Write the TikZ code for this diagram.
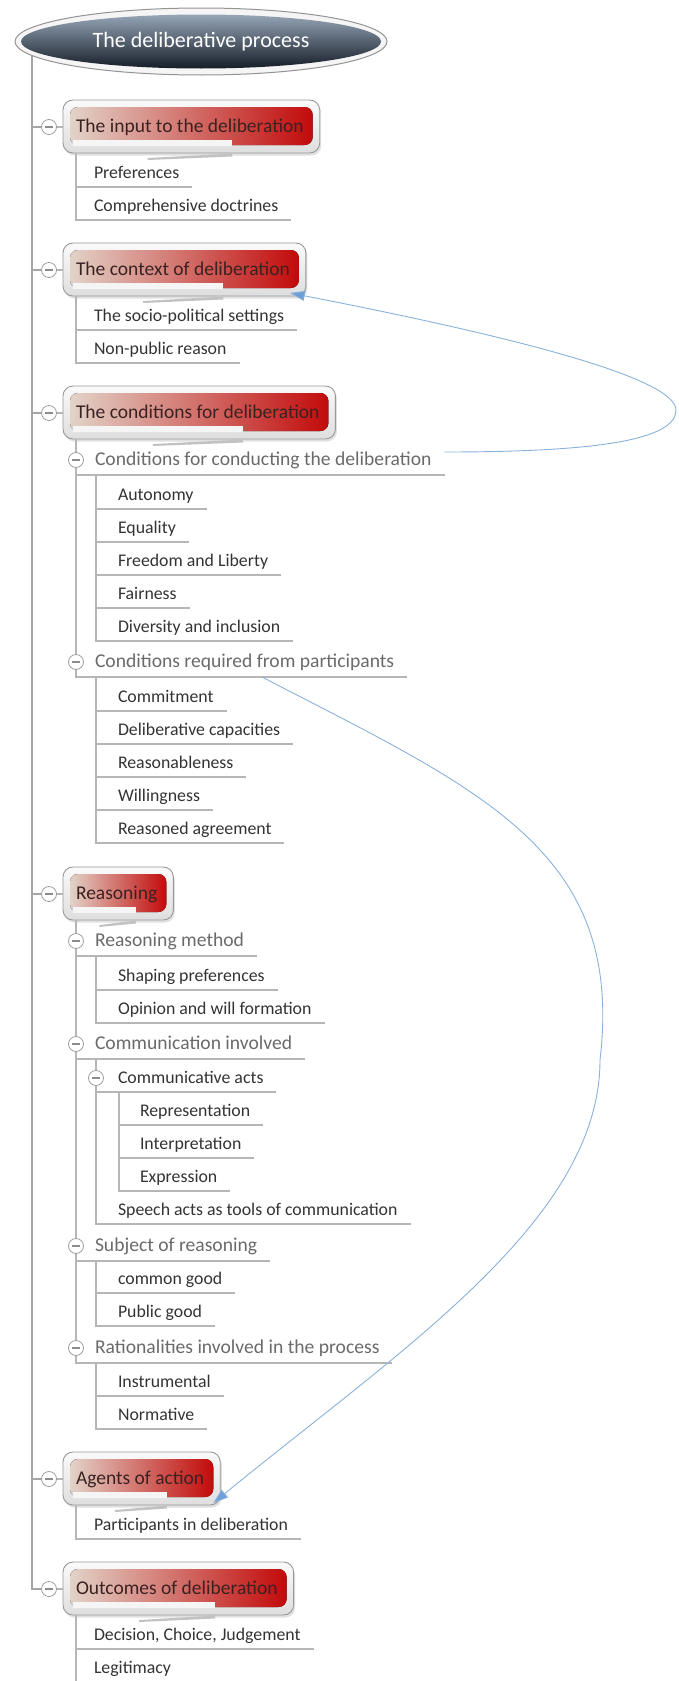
\documentclass[tikz,border=0pt]{standalone}
\usepackage{fontspec}
\setmainfont{Carlito}
\usetikzlibrary{calc,backgrounds,shapes.geometric,arrows.meta}

\definecolor{branchgrey}{HTML}{B6B6B6}
\definecolor{trunkgrey}{HTML}{A6A6A6}
\definecolor{leafink}{HTML}{333333}
\definecolor{headink}{HTML}{6A6A6A}
\definecolor{topicink}{HTML}{3A2222}
\definecolor{linkblue}{HTML}{8AB1DA}
\definecolor{tipblue}{HTML}{6E9FD9}
\definecolor{beige}{HTML}{E2D3C8}
\definecolor{rosy}{HTML}{D66A66}
\definecolor{deepred}{HTML}{C20A0A}
\definecolor{slatetop}{HTML}{95A5B6}
\definecolor{slatemid}{HTML}{3F4D5D}
\definecolor{slatebot}{HTML}{161D28}

\tikzset{
  leaf/.style={anchor=west, inner sep=0pt, outer sep=0pt, text height=19pt, text depth=9pt,
    text=leafink, font=\fontsize{17.8}{20}\selectfont},
  head/.style={anchor=west, inner sep=0pt, outer sep=0pt, text height=20.5pt, text depth=9.5pt,
    text=headink, font=\fontsize{19.6}{22}\selectfont},
  toptxt/.style={anchor=west, inner sep=0pt, outer sep=0pt, text height=15pt, text depth=4pt,
    text=topicink, font=\fontsize{19.5}{22}\selectfont},
  bubbleshadow/.style={fill=black!12, rounded corners=10pt},
  bubbleouter/.style={draw=black!40, line width=0.9pt, top color=black!2, bottom color=black!13, rounded corners=10pt},
  bubbleinner/.style={left color=beige, middle color=rosy, right color=deepred, rounded corners=8pt},
  bubbleband/.style={fill=black!4},
  bubbleswoosh/.style={fill=black!24},
  toggle/.style={circle, draw=black!38, fill=white, line width=0.8pt, minimum size=15pt, inner sep=0pt,
    path picture={\draw[black!45, line width=1.1pt]
      ([xshift=-3.6pt]path picture bounding box.center) -- ([xshift=3.6pt]path picture bounding box.center);}},
  branch/.style={draw=branchgrey, line width=1.2pt},
  trunk/.style={draw=trunkgrey, line width=1.5pt},
  link/.style={draw=linkblue, line width=0.9pt, -{Triangle[length=15pt,width=10pt,fill=tipblue]}},
  rootring/.style={ellipse, draw=black!42, line width=1pt, fill=black!4, minimum width=372pt, minimum height=67pt, inner sep=0pt},
  rootcore/.style={ellipse, top color=slatetop, middle color=slatemid, bottom color=slatebot,
    minimum width=360pt, minimum height=54pt, inner sep=0pt, text=white, font=\fontsize{22}{25}\selectfont}
}

% a main topic: name, row, label
\newcommand\mmtopic[3]{%
  \node[toptxt] (#1) at (76,#2) {#3};
  \coordinate (#1-nw) at (63,#2-27);
  \coordinate (#1-se) at ($(#1.east)+(16,26)$);
  \coordinate (#1-w) at (63,#2);
  \coordinate (#1-e) at ($(#1.east)+(16,0)$);
  \coordinate (#1-a) at ($(#1-w)!0.33!(#1-e)$);
  \coordinate (#1-b) at ($(#1-w)!0.66!(#1-e)$);
  \coordinate (#1-stem) at (76,#2+26);
  \begin{scope}[on background layer]
    \fill[bubbleshadow] ($(#1-nw)+(1.5,2.5)$) rectangle ($(#1-se)+(1.5,2.5)$);
    \draw[bubbleouter] (#1-nw) rectangle (#1-se);
    \fill[bubbleinner] ($(#1-nw)+(7,7)$) rectangle ($(#1-se)+(-7,-8)$);
    \fill[bubbleband] ($(#1-w)+(10,13)$) rectangle ($(#1-b)+(0,19)$);
    \fill[bubbleswoosh] ($(#1-a)+(0,31)$) -- ($(#1-b)+(0,26.5)$) -- ($(#1-b)+(0,29.5)$) -- ($(#1-a)+(0,33)$) -- cycle;
  \end{scope}
  \node[toggle] (#1-t) at (49,#2) {};
  \draw[branch] (#1-t.east) -- (#1-w);
}
% underline of an item, hanging from a stem
\newcommand\uline[2]{\draw[branch] (#1 |- #2.south) -- ([xshift=13pt]#2.south east);}
\newcommand\ulast[2]{\draw[branch] (#1) |- ([xshift=13pt]#2.south east);}

\begin{document}
\begin{tikzpicture}[x=1pt,y=-1pt]
\useasboundingbox (0,0) rectangle (678,1681);

% central topic
\node[rootring] (rootring) at (201,41.5) {};
\node[rootcore] (root) at (201,41.5) {The deliberative process};
\coordinate (trunktop) at (32,41.5);

% main topics
\mmtopic{in}{127}{The input to the deliberation}
\mmtopic{ctx}{270}{The context of deliberation}
\mmtopic{cnd}{413}{The conditions for deliberation}
\mmtopic{rsn}{894}{Reasoning}
\mmtopic{agt}{1479}{Agents of action}
\mmtopic{out}{1589}{Outcomes of deliberation}

\begin{scope}[on background layer]
  \draw[trunk] (trunktop) |- (out-t.west);
\end{scope}
\foreach \t in {in,ctx,cnd,rsn,agt}{\draw[trunk] (trunktop |- \t-t.west) -- (\t-t.west);}

% input
\node[leaf] (pref) at (94,173) {Preferences};
\node[leaf] (comp) at (94,206) {Comprehensive doctrines};
\uline{in-stem}{pref}
\ulast{in-stem}{comp}

% context
\node[leaf] (socio) at (94,316) {The socio-political settings};
\node[leaf] (nonpub) at (94,349) {Non-public reason};
\uline{ctx-stem}{socio}
\ulast{ctx-stem}{nonpub}

% conditions
\node[head] (h1) at (95,460) {Conditions for conducting the deliberation};
\node[leaf] (auto) at (118,495) {Autonomy};
\node[leaf] (equal) at (118,528) {Equality};
\node[leaf] (free) at (118,561) {Freedom and Liberty};
\node[leaf] (fair) at (118,594) {Fairness};
\node[leaf] (div) at (118,627) {Diversity and inclusion};
\node[head] (h2) at (95,662) {Conditions required from participants};
\node[leaf] (commit) at (118,697) {Commitment};
\node[leaf] (delcap) at (118,730) {Deliberative capacities};
\node[leaf] (reas) at (118,763) {Reasonableness};
\node[leaf] (will) at (118,796) {Willingness};
\node[leaf] (ragree) at (118,829) {Reasoned agreement};
\coordinate (h1-stem) at ($(h1.south west)+(1,0)$);
\coordinate (h2-stem) at ($(h2.south west)+(1,0)$);
\uline{cnd-stem}{h1}
\ulast{cnd-stem}{h2}
\foreach \n in {auto,equal,free,fair}{\uline{h1-stem}{\n}}
\ulast{h1-stem}{div}
\foreach \n in {commit,delcap,reas,will}{\uline{h2-stem}{\n}}
\ulast{h2-stem}{ragree}

% reasoning
\node[head] (h3) at (95,941) {Reasoning method};
\node[leaf] (shape) at (118,976) {Shaping preferences};
\node[leaf] (opin) at (118,1009) {Opinion and will formation};
\node[head] (h4) at (95,1044) {Communication involved};
\node[leaf] (ca) at (118,1078) {Communicative acts};
\node[leaf] (repr) at (140,1111) {Representation};
\node[leaf] (interp) at (140,1144) {Interpretation};
\node[leaf] (expr) at (140,1177) {Expression};
\node[leaf] (speech) at (118,1210) {Speech acts as tools of communication};
\node[head] (h5) at (95,1246) {Subject of reasoning};
\node[leaf] (cgood) at (118,1279) {common good};
\node[leaf] (pgood) at (118,1312) {Public good};
\node[head] (h6) at (95,1348) {Rationalities involved in the process};
\node[leaf] (instr) at (118,1382) {Instrumental};
\node[leaf] (norm) at (118,1415) {Normative};
\coordinate (h3-stem) at ($(h3.south west)+(1,0)$);
\coordinate (h4-stem) at ($(h4.south west)+(1,0)$);
\coordinate (ca-stem) at ($(ca.south west)+(1,0)$);
\coordinate (h5-stem) at ($(h5.south west)+(1,0)$);
\coordinate (h6-stem) at ($(h6.south west)+(1,0)$);
\foreach \n in {h3,h4,h5}{\uline{rsn-stem}{\n}}
\ulast{rsn-stem}{h6}
\uline{h3-stem}{shape}
\ulast{h3-stem}{opin}
\uline{h4-stem}{ca}
\ulast{h4-stem}{speech}
\uline{ca-stem}{repr}
\uline{ca-stem}{interp}
\ulast{ca-stem}{expr}
\uline{h5-stem}{cgood}
\ulast{h5-stem}{pgood}
\uline{h6-stem}{instr}
\ulast{h6-stem}{norm}

% agents
\node[leaf] (part) at (94,1525) {Participants in deliberation};
\ulast{agt-stem}{part}

% outcomes
\node[leaf] (dec) at (94,1635) {Decision, Choice, Judgement};
\node[leaf] (legit) at (94,1668) {Legitimacy};
\uline{out-stem}{dec}
\ulast{out-stem}{legit}

% collapse toggles sitting on the stems
\foreach \h in {h1,h2}{\node[toggle] (\h-t) at (cnd-stem |- \h.west) {};}
\foreach \h in {h3,h4,h5,h6}{\node[toggle] (\h-t) at (rsn-stem |- \h.west) {};}
\node[toggle] (ca-t) at (h4-stem |- ca.west) {};

% relationship links
\coordinate (l1s) at ($(h1.south east)+(13,-23)$);
\coordinate (l1r) at (676,410);
\coordinate (l1e) at ($(ctx-se)+(-16,-3)$);
\draw[link] (l1s) .. controls ($(l1s)+(152,0)$) and (676,440) .. (l1r)
  .. controls (676,375) and (480,330) .. (l1e);

\coordinate (l2s) at ($(h2.west)+(167,15)$);
\coordinate (l2m) at (600,1060);
\coordinate (l2e) at ($(agt-se)+(-7,-2)$);
\draw[link] (l2s) .. controls (480,790) and (625,850) .. (l2m)
  .. controls (600,1220) and (400,1350) .. (l2e);
\end{tikzpicture}
\end{document}
